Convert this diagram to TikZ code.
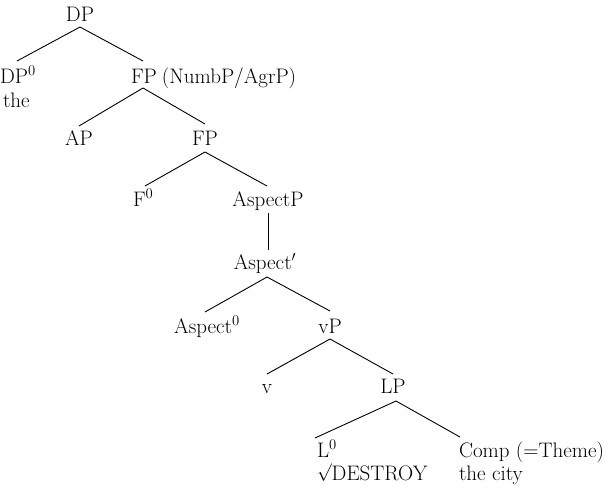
\documentclass[tikz,border=0pt]{standalone}
\usepackage{graphicx}
\newcommand{\rootsign}{\raisebox{2.5pt}{\scalebox{0.85}{$\surd$}}}
\begin{document}
\begin{tikzpicture}[x=1pt,y=-1pt,
  lbl/.style={font=\fontsize{21}{24}\selectfont, inner sep=0pt, outer sep=0pt},
  edge/.style={line width=0.9pt, black}]
\useasboundingbox (0,0) rectangle (609,488);
% nodes (anchor at baseline)
\node[lbl, anchor=base] (DP) at (80,21) {DP};
\node[lbl, anchor=base west] (DP0) at (0,83) {DP\textsuperscript{0}};
\node[lbl, anchor=base west] (the) at (3,107) {the};
\node[lbl, anchor=base] (FP1) at (144,83) {FP};
\node[lbl, anchor=base west] (FP1x) at ([xshift=5pt]FP1.base east) {(NumbP/AgrP)};
\node[lbl, anchor=base] (AP) at (79,145) {AP};
\node[lbl, anchor=base] (FP2) at (205,145) {FP};
\node[lbl, anchor=base west] (F0) at (133,206) {F\textsuperscript{0}};
\node[lbl, anchor=base] (AspP) at (268,206) {AspectP};
\node[lbl, anchor=base] (AspBar) at (265,269) {Aspect$'$};
\node[lbl, anchor=base] (Asp0) at (207,333) {Aspect\textsuperscript{0}};
\node[lbl, anchor=base] (vP) at (330,333) {vP};
\node[lbl, anchor=base] (v) at (267,393) {v};
\node[lbl, anchor=base] (LP) at (393,393) {LP};
\node[lbl, anchor=base west] (L0) at (317,457) {L\textsuperscript{0}};
\node[lbl, anchor=base west] (root) at (317,480) {\rootsign DESTROY};
\node[lbl, anchor=base west] (Comp) at (459,457) {Comp (=Theme)};
\node[lbl, anchor=base west] (city) at (459,480) {the city};
% named attachment points
\coordinate (DPb) at (80,27);
\coordinate (DP0t) at (17,61);
\coordinate (FP1t) at (143,61);
\coordinate (FP1b) at (143,88);
\coordinate (APt) at (79,126);
\coordinate (FP2t) at (205,124);
\coordinate (FP2b) at (205,152);
\coordinate (F0t) at (145,186);
\coordinate (AspPt) at (267,186);
\coordinate (AspPb) at (268,213);
\coordinate (AspBart) at (268,250);
\coordinate (AspBarb) at (267,277);
\coordinate (Asp0t) at (205,312);
\coordinate (vPt) at (330,311);
\coordinate (vPb) at (330,339);
\coordinate (vt) at (267,374);
\coordinate (LPt) at (393,374);
\coordinate (LPb) at (396,401);
\coordinate (L0t) at (315,438);
\coordinate (Compt) at (460,437);
% edges
\draw[edge] (DPb) -- (DP0t);
\draw[edge] (DPb) -- (FP1t);
\draw[edge] (FP1b) -- (APt);
\draw[edge] (FP1b) -- (FP2t);
\draw[edge] (FP2b) -- (F0t);
\draw[edge] (FP2b) -- (AspPt);
\draw[edge] (AspPb) -- (AspBart);
\draw[edge] (AspBarb) -- (Asp0t);
\draw[edge] (AspBarb) -- (vPt);
\draw[edge] (vPb) -- (vt);
\draw[edge] (vPb) -- (LPt);
\draw[edge] (LPb) -- (L0t);
\draw[edge] (LPb) -- (Compt);
\end{tikzpicture}
\end{document}
